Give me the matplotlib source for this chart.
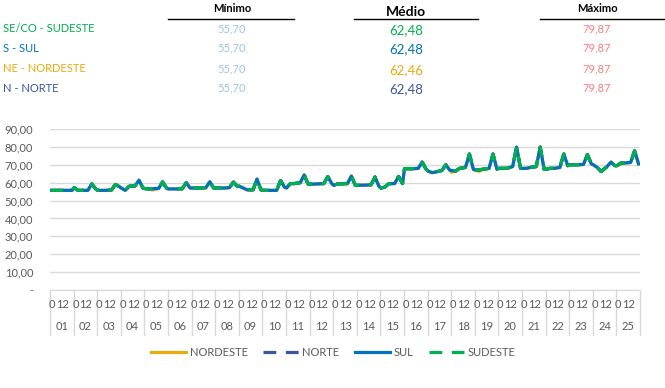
import matplotlib.pyplot as plt
import matplotlib.transforms as mtransforms

plt.rcParams['font.family'] = ['Lato', 'DejaVu Sans']

W, H = 665, 388

dias = ['%02d' % d for d in range(1, 26)]
horas = [0, 4, 8, 14, 18, 22]

# preco por dia nas horas amostradas (SE/CO, S, N)
h00 = [55.7, 57.2, 55.7, 57.0, 56.7, 56.5, 57.0, 57.0, 58.0, 55.7, 57.0, 59.2, 58.5,
       58.5, 57.0, 67.8, 66.5, 66.8, 67.0, 68.0, 68.0, 67.5, 70.0, 70.0, 69.5]
h04 = [55.7, 55.7, 55.7, 55.7, 56.5, 56.5, 57.0, 57.0, 57.0, 55.7, 59.5, 59.2, 59.3,
       58.6, 57.5, 67.8, 65.6, 66.5, 67.2, 68.0, 68.0, 68.0, 70.0, 68.5, 71.0]
h08 = [55.7, 55.7, 55.7, 58.0, 56.6, 56.5, 57.0, 57.0, 56.0, 55.7, 59.5, 59.3, 59.4,
       58.6, 59.4, 67.8, 66.0, 68.0, 67.5, 68.0, 68.5, 68.0, 70.0, 66.2, 71.0]
h14 = [55.7, 55.7, 55.9, 58.2, 56.8, 56.6, 57.2, 57.2, 56.0, 55.7, 60.0, 59.5, 59.5,
       58.8, 59.5, 68.0, 66.8, 68.5, 68.0, 69.0, 69.0, 68.5, 70.2, 69.0, 71.3]
h18 = [55.7, 59.3, 59.0, 61.4, 60.4, 60.0, 60.5, 60.3, 62.0, 61.2, 64.3, 63.4, 63.7,
       63.2, 63.5, 71.5, 70.0, 76.0, 76.0, 79.87, 79.87, 76.0, 75.7, 71.5, 77.8]
h22 = [55.7, 56.5, 57.8, 57.0, 57.0, 57.0, 57.0, 58.0, 56.0, 57.5, 59.2, 59.5, 58.5,
       58.0, 59.5, 67.5, 67.0, 67.5, 67.5, 68.0, 67.5, 69.5, 70.5, 69.5, 70.5]

# NE difere em poucos pontos
ne_dia = [5, 18, 19, 25]
ne_hora = [8, 0, 4, 4]
ne_valor = [55.9, 65.8, 66.3, 70.3]

regioes = ['SE/CO - SUDESTE', 'S - SUL', 'NE - NORDESTE', 'N - NORTE']
minimo = [55.70, 55.70, 55.70, 55.70]
medio = [62.48, 62.48, 62.46, 62.48]
maximo = [79.87, 79.87, 79.87, 79.87]

c_se = '#00B050'
c_s = '#0070C0'
c_ne = '#EBAA0C'
c_n = '#3B55A0'
cinza = '#595959'
grade = '#D9D9D9'


def serie(ajuste=None):
    cols = [h00, h04, h08, h14, h18, h22]
    x = []
    y = []
    for d in range(len(dias)):
        for k, h in enumerate(horas):
            v = cols[k][d]
            if ajuste:
                for dd, hh, vv in zip(*ajuste):
                    if dd == d + 1 and hh == h:
                        v = vv
            x.append(d * 24 + h + 0.5)
            y.append(v)
    return x, y


def br(v):
    return ('%.2f' % v).replace('.', ',')


fig = plt.figure(figsize=(W / 100, H / 100), dpi=100)
ax = fig.add_axes([50 / W, 1 - 290 / H, 590 / W, 161 / H])

x, y = serie()
xn, yn = serie((ne_dia, ne_hora, ne_valor))
lw = 2.3
ax.plot(xn, yn, color=c_ne, lw=lw, label='NORDESTE')
ax.plot(x, y, color=c_n, lw=lw, ls=(0, (4, 3)), label='NORTE')
ax.plot(x, y, color=c_s, lw=lw, label='SUL')
ax.plot(x, y, color=c_se, lw=lw, ls=(0, (4, 3)), label='SUDESTE')

ax.set_xlim(0, 24 * len(dias))
ax.set_ylim(0, 90)
ax.set_yticks(range(0, 91, 10))
ax.set_yticklabels(['-'] + [br(v) for v in range(10, 91, 10)])
ax.tick_params(axis='y', length=0, pad=12, labelsize=8, labelcolor=cinza)
ax.grid(axis='y', color=grade, lw=1)
ax.set_axisbelow(True)
for s in ['top', 'right', 'left']:
    ax.spines[s].set_visible(False)
ax.spines['bottom'].set_color(grade)

# eixo x em dois niveis: hora e dia
ax.set_xticks([])
tr = mtransforms.blended_transform_factory(ax.transData, ax.transAxes)
for d in range(len(dias)):
    ax.text(d * 24 + 2, -14 / 161, '0', transform=tr, ha='center', va='center', fontsize=8, color=cinza)
    ax.text(d * 24 + 12.5, -14 / 161, '12', transform=tr, ha='center', va='center', fontsize=8, color=cinza)
    ax.text(d * 24 + 12, -37 / 161, dias[d], transform=tr, ha='center', va='center', fontsize=8, color=cinza)
for d in range(len(dias) + 1):
    ax.plot([d * 24, d * 24], [0, -45 / 161], transform=tr, color=grade, lw=1, clip_on=False)

leg = ax.legend(loc='center', bbox_to_anchor=(0.48, -62 / 161), ncol=4, frameon=False,
                fontsize=8, handlelength=3.2, handletextpad=0.3, columnspacing=1.4)
for t in leg.get_texts():
    t.set_color(cinza)

# tabela no topo
def ft(px, py, s, **kw):
    fig.text(px / W, 1 - py / H, s, va='center', **kw)

ft(232, 9, 'Mínimo', ha='center', fontsize=8, fontweight='bold', color='black')
ft(406, 12, 'Médio', ha='center', fontsize=10, fontweight='bold', color='black')
ft(597, 9, 'Máximo', ha='center', fontsize=8, fontweight='bold', color='black')
for x0, x1 in [(168, 294), (354, 478), (540, 664)]:
    fig.add_artist(plt.Line2D([x0 / W, x1 / W], [1 - 19 / H, 1 - 19 / H], color='black', lw=1))

cores = [c_se, c_s, c_ne, c_n]
linhas = [29, 48, 69, 88]
for i in range(len(regioes)):
    ft(3, linhas[i], regioes[i], ha='left', fontsize=8, color=cores[i])
    ft(232, linhas[i], br(minimo[i]), ha='center', fontsize=8, color='#9DC3E6')
    ft(406, linhas[i] + 1, br(medio[i]), ha='center', fontsize=9.5, color=cores[i])
    ft(597, linhas[i], br(maximo[i]), ha='center', fontsize=8, color='#FF7C80')

fig.savefig('out.png', dpi=100)
